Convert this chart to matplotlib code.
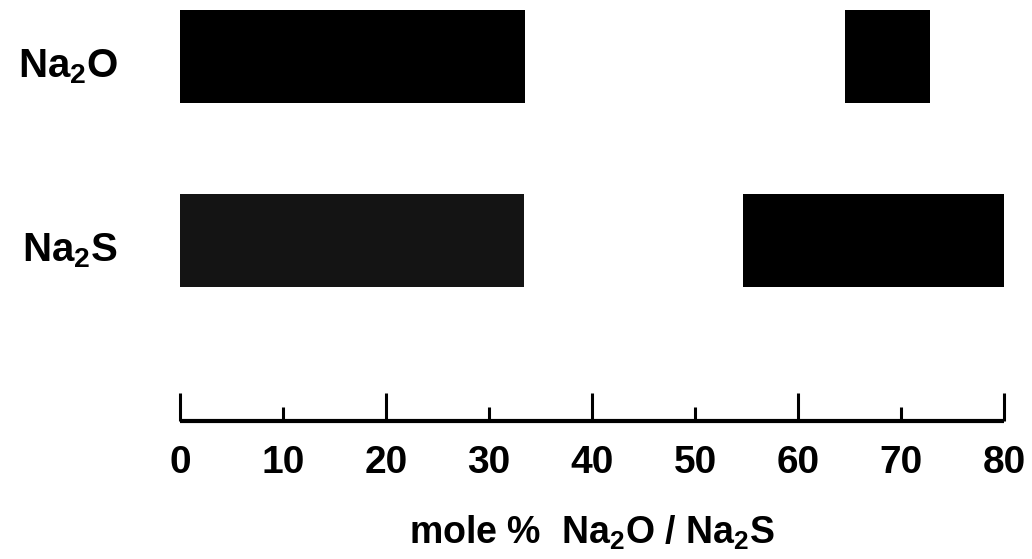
import matplotlib
matplotlib.use("Agg")
import matplotlib.pyplot as plt
import matplotlib.transforms as mtransforms

# composition ranges (mole %) where glass forms
rows = ["Na$_2$S", "Na$_2$O"]
na2o_ranges = [(0, 33.5), (64.6, 8.2)]    # (start, width)
na2s_ranges = [(0, 33.4), (54.7, 25.4)]
na2s_colors = ["#141414", "black"]
na2o_colors = ["black", "black"]

xlabel = "mole %  Na$_2$O / Na$_2$S"
xticks = [0, 10, 20, 30, 40, 50, 60, 70, 80]

plt.rcParams["font.family"] = "Liberation Sans"
plt.rcParams["font.weight"] = "bold"
plt.rcParams["mathtext.fontset"] = "custom"
plt.rcParams["mathtext.rm"] = "Liberation Sans:bold"
plt.rcParams["mathtext.it"] = "Liberation Sans:bold"
plt.rcParams["mathtext.bf"] = "Liberation Sans:bold"
plt.rcParams["mathtext.default"] = "rm"

fig = plt.figure(figsize=(10.32, 5.59), dpi=100)
ax = fig.add_axes([180 / 1032, 1 - 421 / 559, 824 / 1032, 421 / 559])

bar_h = 0.505
ax.broken_barh(na2s_ranges, (0 - bar_h / 2, bar_h), facecolors=na2s_colors)
ax.broken_barh(na2o_ranges, (1 - bar_h / 2, bar_h), facecolors=na2o_colors)

ax.set_xlim(0, 80)
ax.set_ylim(-0.981, 1.307)

for s in ["top", "left", "right"]:
    ax.spines[s].set_visible(False)
ax.spines["bottom"].set_linewidth(3)
ax.spines["bottom"].set_capstyle("butt")

# long ticks at 0,20,..; short ones at 10,30,...
ax.set_xticks(xticks)
ax.set_xticklabels([str(t) for t in xticks])
ax.tick_params(axis="x", which="major", direction="in", length=20, width=2.2,
               pad=17, labelsize=28)
for t, tick in zip(xticks, ax.xaxis.get_major_ticks()):
    if t % 20:
        tick.tick1line.set_markersize(10)

# row labels
ax.set_yticks([])
trans = mtransforms.blended_transform_factory(fig.transFigure, ax.transData)
for i, name in enumerate(rows):
    ax.text(118 / 1032, i - 0.055, name, transform=trans, ha="right",
            va="center", fontsize=29, fontweight="bold")

ax.set_xlabel(xlabel, fontsize=27, fontweight="bold", labelpad=24)

fig.savefig("out.png", dpi=100)
